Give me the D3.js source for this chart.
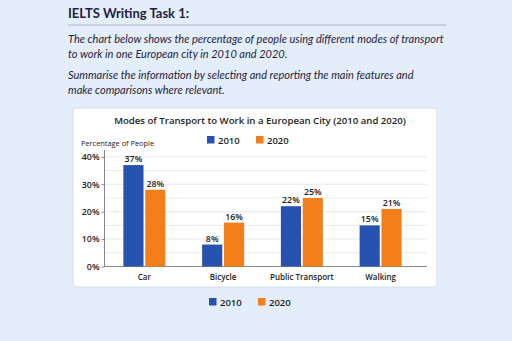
<!DOCTYPE html>
<html>
<head>
<meta charset="utf-8">
<script src="https://cdn.jsdelivr.net/npm/d3@7"></script>
<style>
  body { margin: 0; background: #e4eefa; }
  svg { display: block; }
</style>
</head>
<body>
<svg id="page" width="512" height="341"></svg>
<script>
const modes = ["Car", "Bicycle", "Public Transport", "Walking"]
const years = ["2010", "2020"]
const values2010 = [37, 8, 22, 15]
const values2020 = [28, 16, 25, 21]
const yTicks = [0, 10, 20, 30, 40]
const colors = {"2010": "#2852b0", "2020": "#f27f19"}

const svg = d3.select("#page")
const ink = "#1f2340"

// task header
svg.append("text")
  .attr("x", 68).attr("y", 18)
  .style("font-family", "Lato, 'Open Sans', sans-serif")
  .style("font-weight", "700")
  .style("font-size", "13px")
  .style("fill", ink)
  .text("IELTS Writing Task 1:")
svg.append("line")
  .attr("x1", 68).attr("x2", 446).attr("y1", 25).attr("y2", 25)
  .style("stroke", "#a9b2c6").style("stroke-width", 1)

const para = [
  ["The chart below shows the percentage of people using different modes of transport", 43],
  ["to work in one European city in 2010 and 2020.", 58],
  ["Summarise the information by selecting and reporting the main features and", 79],
  ["make comparisons where relevant.", 94]
]
svg.selectAll("text.para")
  .data(para)
  .enter().append("text")
  .attr("class", "para")
  .attr("x", 68)
  .attr("y", d => d[1])
  .style("font-family", "Lato, 'Open Sans', sans-serif")
  .style("font-style", "italic")
  .style("font-size", "11px")
  .style("fill", ink)
  .text(d => d[0])

// chart card
svg.append("rect")
  .attr("x", 73).attr("y", 108).attr("width", 364).attr("height", 179)
  .attr("rx", 3)
  .style("fill", "#ffffff")
  .style("stroke", "#d3dcea")

svg.append("text")
  .attr("x", 260).attr("y", 124)
  .attr("text-anchor", "middle")
  .style("font-family", "'Open Sans', sans-serif")
  .style("font-weight", "600")
  .style("font-size", "9.6px")
  .style("fill", "#222")
  .text("Modes of Transport to Work in a European City (2010 and 2020)")

function legend(y, x0) {
  const g = svg.append("g").attr("transform", "translate(" + x0 + "," + y + ")")
  years.forEach(function(yr, i) {
    g.append("rect")
      .attr("x", i * 49).attr("y", -4)
      .attr("width", 7.5).attr("height", 7.5)
      .style("fill", colors[yr])
    g.append("text")
      .attr("x", i * 49 + 11).attr("y", 3.5)
      .style("font-family", "'Open Sans', sans-serif")
      .style("font-weight", "600")
      .style("font-size", "9.5px")
      .style("fill", "#222")
      .text(yr)
  })
}
legend(140, 207)
legend(302, 209)

svg.append("text")
  .attr("x", 81).attr("y", 146)
  .style("font-family", "'Open Sans', sans-serif")
  .style("font-size", "7.4px")
  .style("fill", "#222")
  .text("Percentage of People")

// plot area
const y = d3.scaleLinear().domain([0, 42.5]).range([266.5, 150])
const x = d3.scaleBand().domain(modes).range([105, 420])
const xIn = d3.scaleBand().domain(years).range([-21, 21]).paddingInner(0.08)

const plot = svg.append("g")

plot.selectAll("line.grid")
  .data(d3.range(5, 45, 5))
  .enter().append("line")
  .attr("class", "grid")
  .attr("x1", 104).attr("x2", 427)
  .attr("y1", d => y(d)).attr("y2", d => y(d))
  .style("stroke", "#e1e4ea").style("stroke-width", 0.8)

const yAxis = plot.append("g")
  .attr("transform", "translate(104.5,0)")
  .call(d3.axisLeft(y).tickValues(yTicks).tickFormat(d => d + "%").tickSize(3).tickPadding(2))
yAxis.select(".domain").attr("d", "M0," + y(42.5) + "V" + y(0)).style("stroke", "#888")
yAxis.selectAll(".tick line").style("stroke", "#888")
yAxis.selectAll("text")
  .style("font-family", "'Open Sans', sans-serif")
  .style("font-weight", "600")
  .style("font-size", "8.8px")
  .style("fill", "#222")

const xAxis = plot.append("g")
  .attr("transform", "translate(0," + y(0) + ")")
  .call(d3.axisBottom(x).tickSize(0).tickPadding(8))
xAxis.select(".domain").attr("d", "M104,0H427").style("stroke", "#888")
xAxis.selectAll("text")
  .style("font-family", "'Open Sans', sans-serif")
  .style("font-weight", "600")
  .style("font-size", "8px")
  .style("fill", "#222")

const rows = []
modes.forEach(function(m, i) {
  rows.push({mode: m, year: "2010", v: values2010[i]})
  rows.push({mode: m, year: "2020", v: values2020[i]})
})

const cx = d => x(d.mode) + x.bandwidth() / 2 + xIn(d.year)

plot.selectAll("rect.bar")
  .data(rows)
  .enter().append("rect")
  .attr("class", "bar")
  .attr("x", cx)
  .attr("width", xIn.bandwidth())
  .attr("y", d => y(d.v))
  .attr("height", d => y(0) - y(d.v))
  .style("fill", d => colors[d.year])

plot.selectAll("text.val")
  .data(rows)
  .enter().append("text")
  .attr("class", "val")
  .attr("x", d => cx(d) + xIn.bandwidth() / 2)
  .attr("y", d => y(d.v) - 3)
  .attr("text-anchor", "middle")
  .style("font-family", "'Open Sans', sans-serif")
  .style("font-weight", "600")
  .style("font-size", "8.8px")
  .style("fill", "#222")
  .text(d => d.v + "%")
</script>
</body>
</html>
